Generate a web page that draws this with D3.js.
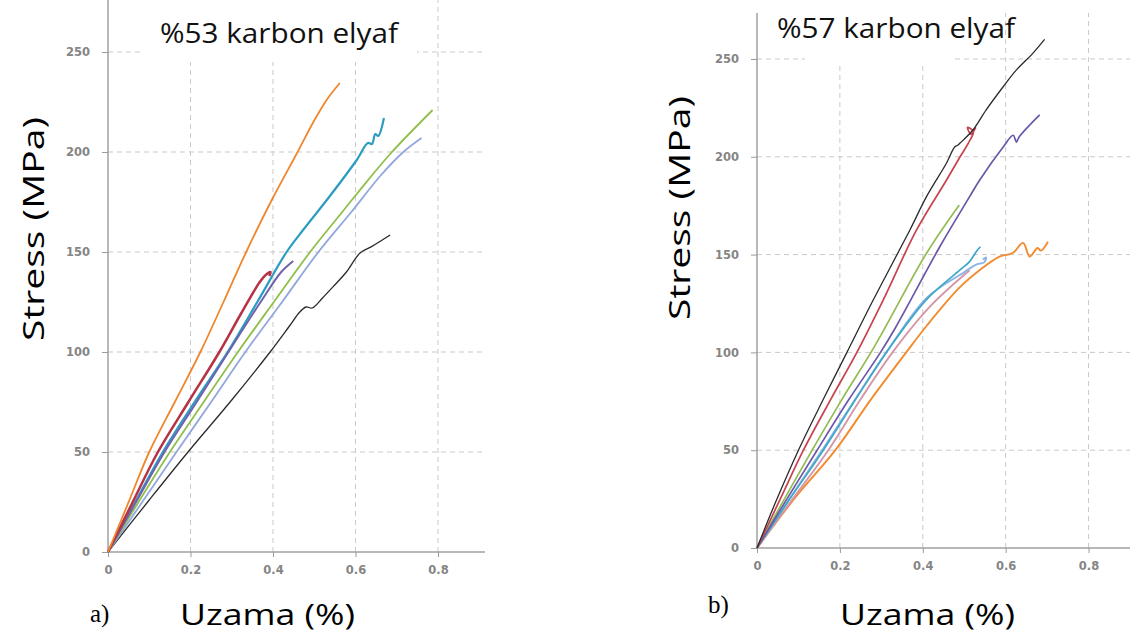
<!DOCTYPE html>
<html>
<head>
<meta charset="utf-8">
<script src="https://cdn.jsdelivr.net/npm/d3@7/dist/d3.min.js"></script>
<style>
  body { margin: 0; background: #fff; }
  svg { display: block; }
  .tick text { font-family: "DejaVu Sans", sans-serif; font-weight: bold; font-size: 11.5px; fill: #858585; }
  .tick line { stroke: #9a9a9a; }
  .domain { stroke: #a0a0a0; stroke-width: 1.5px; }
  .grid line { stroke: #c9c9c9; stroke-dasharray: 5,4; stroke-width: 1; }
  .axis-title { font-family: "Open Sans", sans-serif; fill: #000; }
  .chart-title { font-family: "Open Sans", sans-serif; fill: #111; }
  .panel-label { font-family: "Liberation Serif", serif; fill: #000; }
</style>
</head>
<body>
<svg id="chart" width="1145" height="644"></svg>
<script>
// ticks
const xTicks = [0, 0.2, 0.4, 0.6, 0.8];
const yTicks = [0, 50, 100, 150, 200, 250];

// --- %53 karbon elyaf (a) : [strain %, stress MPa]
const a53Orange = [[0,0],[0.052,26],[0.1,50],[0.162,75],[0.224,100],[0.28,125],[0.335,150],[0.397,176],[0.457,199],[0.498,215],[0.53,226],[0.562,234.5]];
const a53Red = [[0,0],[0.06,25],[0.121,50],[0.195,75],[0.27,100],[0.322,119],[0.368,135],[0.385,139],[0.394,140],[0.391,138]];
const a53Purple = [[0,0],[0.068,25],[0.137,50],[0.215,75],[0.292,100],[0.37,125],[0.42,140],[0.449,145.5]];
const a53Teal = [[0,0],[0.066,25],[0.133,50],[0.21,75],[0.29,100],[0.362,125],[0.433,150],[0.473,161],[0.538,178],[0.603,196],[0.63,204.5],[0.64,204],[0.648,209],[0.655,208],[0.669,217]];
const a53Green = [[0,0],[0.074,25],[0.15,50],[0.232,75],[0.315,100],[0.402,125],[0.49,150],[0.56,168],[0.603,179],[0.684,199],[0.787,221]];
const a53Lavender = [[0,0],[0.083,25],[0.166,50],[0.25,75],[0.333,100],[0.422,125],[0.51,150],[0.59,170],[0.66,188],[0.716,200],[0.76,207]];
const a53Black = [[0,0],[0.1,26],[0.194,50],[0.3,76],[0.393,100],[0.44,113],[0.465,120],[0.48,122.5],[0.495,122],[0.52,127],[0.546,132.7],[0.578,140],[0.611,149.5],[0.639,152.7],[0.684,158.5]];

// --- %57 karbon elyaf (b)
const b57Black = [[0,0],[0.044,23],[0.1,50],[0.16,76],[0.217,100],[0.281,127],[0.369,162.6],[0.409,179.6],[0.457,196.7],[0.477,205],[0.485,206],[0.49,207],[0.521,213.7],[0.553,224],[0.594,235.8],[0.626,244.4],[0.666,253],[0.694,260]];
const b57Red = [[0,0],[0.056,25],[0.112,50],[0.178,76],[0.241,100],[0.305,127],[0.385,162.6],[0.457,188],[0.49,200],[0.51,207],[0.522,213],[0.508,215],[0.516,211.5],[0.528,215]];
const b57Purple = [[0,0],[0.072,25],[0.145,50],[0.222,76],[0.298,100],[0.335,113],[0.441,154],[0.513,179.6],[0.537,188],[0.594,205],[0.618,211],[0.626,207.5],[0.632,210],[0.682,221.4]];
const b57Green = [[0,0],[0.066,25],[0.133,50],[0.205,76],[0.275,100],[0.31,113],[0.409,150.7],[0.488,175.4]];
const b57Pink = [[0,0],[0.086,25],[0.172,50],[0.25,76],[0.327,100],[0.42,124],[0.513,142]];
const b57LightBlue = [[0,0],[0.078,25],[0.157,50],[0.237,76],[0.312,100],[0.41,128],[0.5,141],[0.53,145],[0.548,146],[0.553,148.5],[0.545,147.5]];
const b57Teal = [[0,0],[0.079,25],[0.16,50],[0.238,76],[0.312,100],[0.409,127],[0.489,142],[0.513,146.4],[0.529,151.5],[0.539,154]];
const b57Orange = [[0,0],[0.093,26],[0.189,50],[0.275,76],[0.36,100],[0.409,113.5],[0.489,133.2],[0.54,142.5],[0.585,149],[0.617,150.8],[0.642,156],[0.658,149],[0.677,153.4],[0.685,152],[0.702,156.6]];

const panels = [
  {
    title: '%53 karbon elyaf', label: 'a)',
    left: 108, top: 0, right: 485, bottom: 552, xMax: 0.914, yMax: 276,
    titleX: 160, titleY: 43, titleW: 238, maskX: 140, maskW: 277,
    yTitleX: 44, yTitleY: 229, xTitleX: 180, xTitleY: 625, labelX: 90, labelY: 622,
    series: [
      {data: a53Black, color: '#2a2a2a', w: 1.3},
      {data: a53Lavender, color: '#93a7dc', w: 1.8},
      {data: a53Green, color: '#8fbf4a', w: 1.8},
      {data: a53Teal, color: '#2d9cc2', w: 2.2},
      {data: a53Purple, color: '#6f63ad', w: 2},
      {data: a53Red, color: '#b53345', w: 2.5},
      {data: a53Orange, color: '#f0862c', w: 1.8}
    ]
  },
  {
    title: '%57 karbon elyaf', label: 'b)',
    left: 757, top: 13, right: 1130, bottom: 548, xMax: 0.9, yMax: 273.5,
    titleX: 777, titleY: 38, titleW: 238, maskX: 805, maskW: 150,
    yTitleX: 690, yTitleY: 208, xTitleX: 840, xTitleY: 625, labelX: 708, labelY: 613,
    series: [
      {data: b57Orange, color: '#f28a2e', w: 1.9},
      {data: b57Pink, color: '#d597a8', w: 1.9},
      {data: b57LightBlue, color: '#8db4e2', w: 1.9},
      {data: b57Teal, color: '#3ea8c8', w: 1.7},
      {data: b57Green, color: '#92bc52', w: 1.7},
      {data: b57Purple, color: '#6a58a8', w: 1.7},
      {data: b57Red, color: '#c8424f', w: 1.7},
      {data: b57Black, color: '#2a2a2a', w: 1.3}
    ]
  }
];

const svg = d3.select('#chart');

panels.forEach(p => {
  const x = d3.scaleLinear().domain([0, p.xMax]).range([p.left, p.right]);
  const y = d3.scaleLinear().domain([0, p.yMax]).range([p.bottom, p.top]);
  const g = svg.append('g');

  // Gridlines
  const grid = g.append('g').attr('class', 'grid');
  grid.selectAll('.hg')
      .data(yTicks.filter(d => d > 0))
    .join('line')
      .attr('x1', p.left).attr('x2', p.right)
      .attr('y1', d => y(d)).attr('y2', d => y(d));
  grid.selectAll('.vg')
      .data(xTicks.filter(d => d > 0))
    .join('line')
      .attr('x1', d => x(d)).attr('x2', d => x(d))
      .attr('y1', p.bottom).attr('y2', p.top);

  // White box behind the title hides the grid
  g.append('rect')
      .attr('x', p.maskX).attr('y', 0)
      .attr('width', p.maskW).attr('height', 62)
      .attr('fill', '#fff');

  // Axes
  g.append('g')
      .attr('transform', `translate(0,${p.bottom})`)
      .call(d3.axisBottom(x).tickValues(xTicks).tickSize(5).tickPadding(9).tickFormat(d => d === 0 ? '0' : d3.format('.1f')(d)))
      .call(a => a.selectAll('.domain').attr('d', `M${p.left},0H${p.right}`));
  g.append('g')
      .attr('transform', `translate(${p.left},0)`)
      .call(d3.axisLeft(y).tickValues(yTicks).tickSize(6).tickPadding(12))
      .call(a => a.selectAll('.domain').attr('d', `M0,${p.bottom}V${p.top}`));

  // Curves
  const line = d3.line()
      .x(d => x(d[0]))
      .y(d => y(d[1]))
      .curve(d3.curveCatmullRom.alpha(0.5));
  g.selectAll('.curve')
      .data(p.series)
    .join('path')
      .attr('class', 'curve')
      .attr('fill', 'none')
      .attr('stroke', d => d.color)
      .attr('stroke-width', d => d.w)
      .attr('stroke-linejoin', 'round')
      .attr('d', d => line(d.data));

  // Texts
  g.append('text')
      .attr('class', 'chart-title')
      .attr('x', p.titleX).attr('y', p.titleY)
      .attr('font-size', 27)
      .attr('textLength', p.titleW)
      .attr('lengthAdjust', 'spacingAndGlyphs')
      .text(p.title);

  g.append('text')
      .attr('class', 'axis-title')
      .attr('transform', `translate(${p.yTitleX},${p.yTitleY}) rotate(-90)`)
      .attr('text-anchor', 'middle')
      .attr('font-size', 30)
      .attr('textLength', 224)
      .attr('lengthAdjust', 'spacingAndGlyphs')
      .text('Stress (MPa)');

  g.append('text')
      .attr('class', 'axis-title')
      .attr('x', p.xTitleX).attr('y', p.xTitleY)
      .attr('font-size', 30)
      .attr('textLength', 175)
      .attr('lengthAdjust', 'spacingAndGlyphs')
      .text('Uzama (%)');

  g.append('text')
      .attr('class', 'panel-label')
      .attr('x', p.labelX).attr('y', p.labelY)
      .attr('font-size', 25)
      .text(p.label);
});
</script>
</body>
</html>
